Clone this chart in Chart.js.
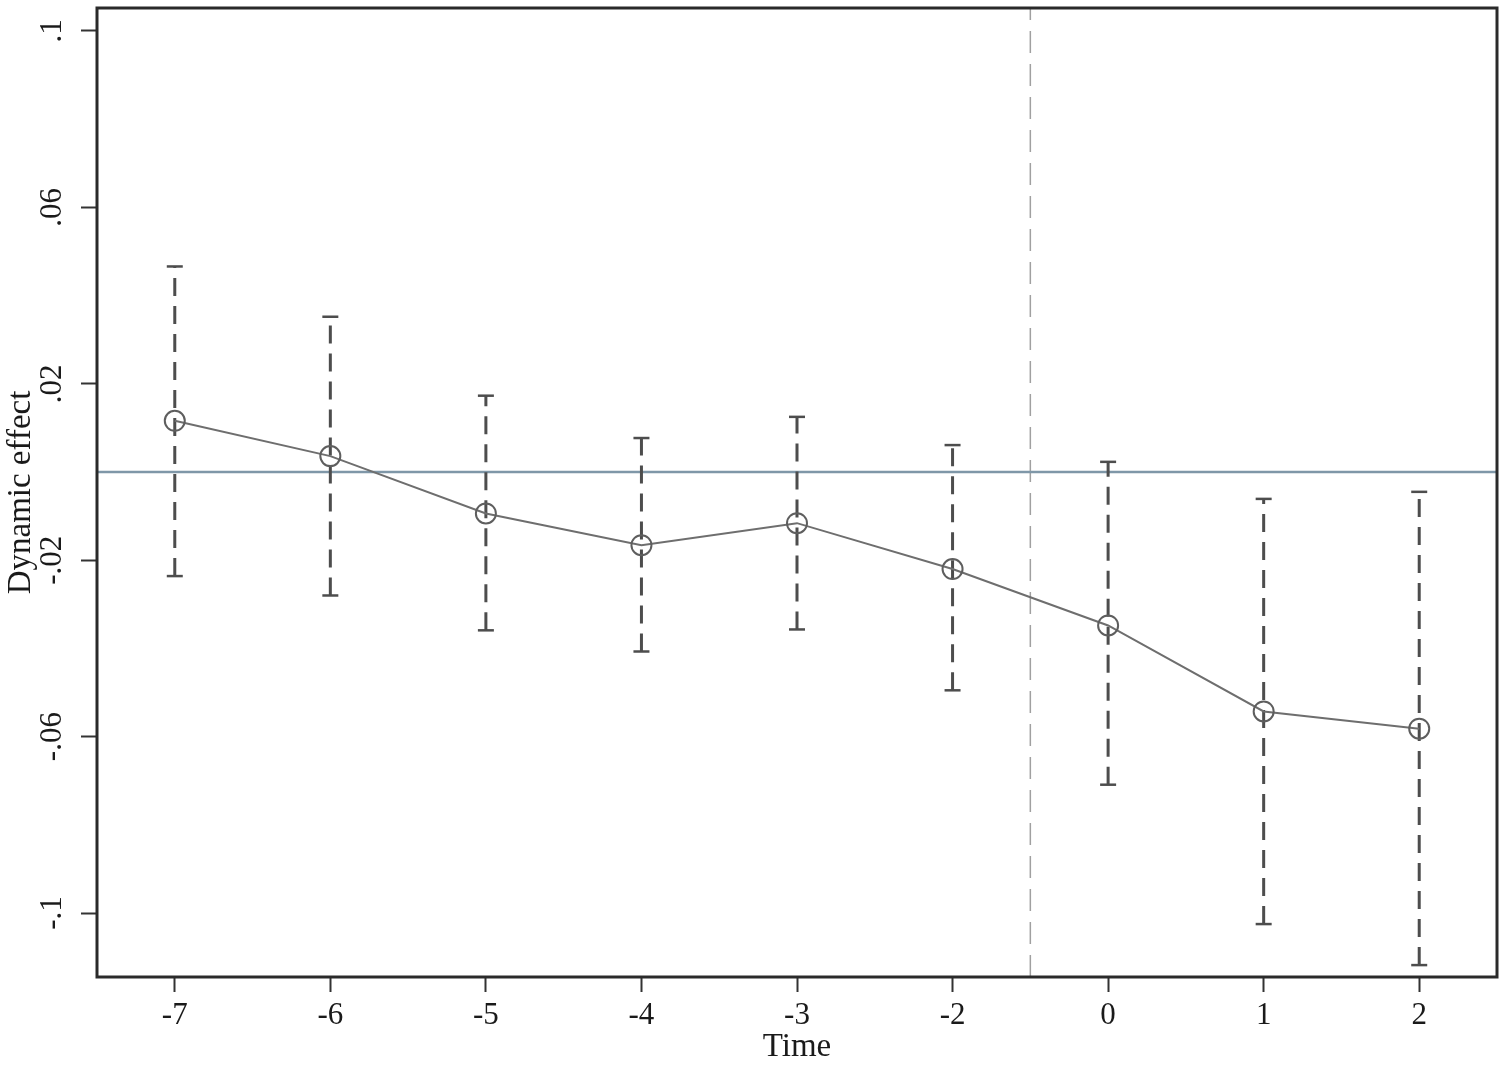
<html>
<head>
    <meta charset="UTF-8">
    <title>Dynamic effect</title>
    <script src="https://cdn.jsdelivr.net/npm/chart.js@4.4.1/dist/chart.umd.min.js"></script>
    <style>
        body { margin: 0; background: #fff; }
        #wrap { width: 1500px; height: 1068px; }
    </style>
</head>
<body>
<div id="wrap"><canvas id="myChart"></canvas></div>

<script>
    // values
    var timeLabels = ['-7', '-6', '-5', '-4', '-3', '-2', '0', '1', '2'];
    var coef   = [0.0116, 0.0036, -0.0094, -0.0166, -0.0116, -0.0220, -0.0348, -0.0543, -0.0582];
    var ciHigh = [0.0466, 0.0352, 0.0173, 0.0077, 0.0125, 0.0061, 0.0023, -0.0061, -0.0045];
    var ciLow  = [-0.0236, -0.0280, -0.0359, -0.0407, -0.0357, -0.0495, -0.0709, -0.1025, -0.1118];
    var yTicks = [-0.1, -0.06, -0.02, 0.02, 0.06, 0.1];
    var yMin = -0.1145, yMax = 0.1052;
    var refY = 0;        // horizontal reference line
    var eventX = 5.5;    // dashed vertical line, between -2 and 0

    function fmt(v) {
        // stata style: .06, -.02
        var s = String(Math.round(v * 100) / 100);
        return s.replace('0.', '.');
    }

    var datasets = [];

    // main line with hollow circles
    datasets.push({
        label: 'coef',
        data: coef.map(function (v, i) { return {x: i, y: v}; }),
        borderColor: '#6e6e6e',
        borderWidth: 2,
        pointRadius: 10,
        pointBorderWidth: 2,
        pointBorderColor: '#5e5e5e',
        pointBackgroundColor: 'rgba(0,0,0,0)',
        order: 0
    });

    // one dashed error bar per period, caps as 'line' points
    for (var i = 0; i < coef.length; i++) {
        datasets.push({
            label: 'ci' + i,
            data: [{x: i, y: ciLow[i]}, {x: i, y: ciHigh[i]}],
            borderColor: '#4d4d4d',
            borderWidth: 3,
            borderDash: [18, 10],
            pointStyle: 'line',
            pointRadius: 8,
            pointBorderWidth: 2.5,
            pointBorderColor: '#4d4d4d',
            order: 1
        });
    }

    datasets.push({
        label: 'zero',
        data: [{x: -0.5, y: refY}, {x: 8.5, y: refY}],
        borderColor: '#7f97a8',
        borderWidth: 2.5,
        pointRadius: 0,
        order: 2
    });

    datasets.push({
        label: 'event',
        data: [{x: eventX, y: yMin}, {x: eventX, y: yMax}],
        borderColor: '#a0a0a0',
        borderWidth: 1.5,
        borderDash: [22, 11],
        pointRadius: 0,
        order: 2
    });

    var framePlugin = {
        id: 'frame',
        afterDraw: function (chart) {
            var a = chart.chartArea, ctx = chart.ctx;
            ctx.save();
            ctx.strokeStyle = '#2a2a2a';
            ctx.lineWidth = 3;
            ctx.strokeRect(a.left, a.top, a.right - a.left, a.bottom - a.top);
            ctx.restore();
        }
    };

    function noPad(scale) {
        scale.paddingTop = 0;
        scale.paddingBottom = 0;
        scale.paddingLeft = 0;
        scale.paddingRight = 0;
    }

    var serif = '"Liberation Serif", "Times New Roman", serif';

    var ctx = document.getElementById('myChart');
    var myChart = new Chart(ctx, {
        type: 'line',
        data: { datasets: datasets },
        plugins: [framePlugin],
        options: {
            responsive: true,
            maintainAspectRatio: false,
            animation: false,
            events: [],
            layout: { autoPadding: false, padding: { top: 8, right: 3, bottom: 0, left: 0 } },
            plugins: { legend: { display: false }, tooltip: { enabled: false } },
            scales: {
                x: {
                    type: 'linear',
                    min: -0.5,
                    max: 8.5,
                    border: { display: false },
                    grid: { drawOnChartArea: false, drawTicks: true, tickLength: 15, tickColor: '#333', tickWidth: 2 },
                    afterBuildTicks: function (scale) {
                        scale.ticks = timeLabels.map(function (t, i) { return {value: i}; });
                    },
                    afterFit: function (scale) { scale.height = 91; noPad(scale); },
                    ticks: {
                        autoSkip: false,
                        maxRotation: 0,
                        padding: 5,
                        color: '#1a1a1a',
                        font: { family: serif, size: 31 },
                        callback: function (v) { return timeLabels[v]; }
                    },
                    title: {
                        display: true,
                        text: 'Time',
                        color: '#1a1a1a',
                        font: { family: serif, size: 33 },
                        padding: { top: 0, bottom: 1 }
                    }
                },
                y: {
                    min: yMin,
                    max: yMax,
                    border: { display: false },
                    grid: { drawOnChartArea: false, drawTicks: true, tickLength: 16, tickColor: '#333', tickWidth: 2 },
                    afterBuildTicks: function (scale) {
                        scale.ticks = yTicks.map(function (v) { return {value: v}; });
                    },
                    afterFit: function (scale) { scale.width = 97; noPad(scale); },
                    ticks: {
                        minRotation: 90,
                        maxRotation: 90,
                        crossAlign: 'center',
                        padding: 4,
                        color: '#1a1a1a',
                        font: { family: serif, size: 31 },
                        callback: function (v) { return fmt(v); }
                    },
                    title: {
                        display: true,
                        text: 'Dynamic effect',
                        color: '#1a1a1a',
                        font: { family: serif, size: 33 },
                        padding: { top: 2, bottom: 0 }
                    }
                }
            }
        }
    });
</script>
</body>
</html>
